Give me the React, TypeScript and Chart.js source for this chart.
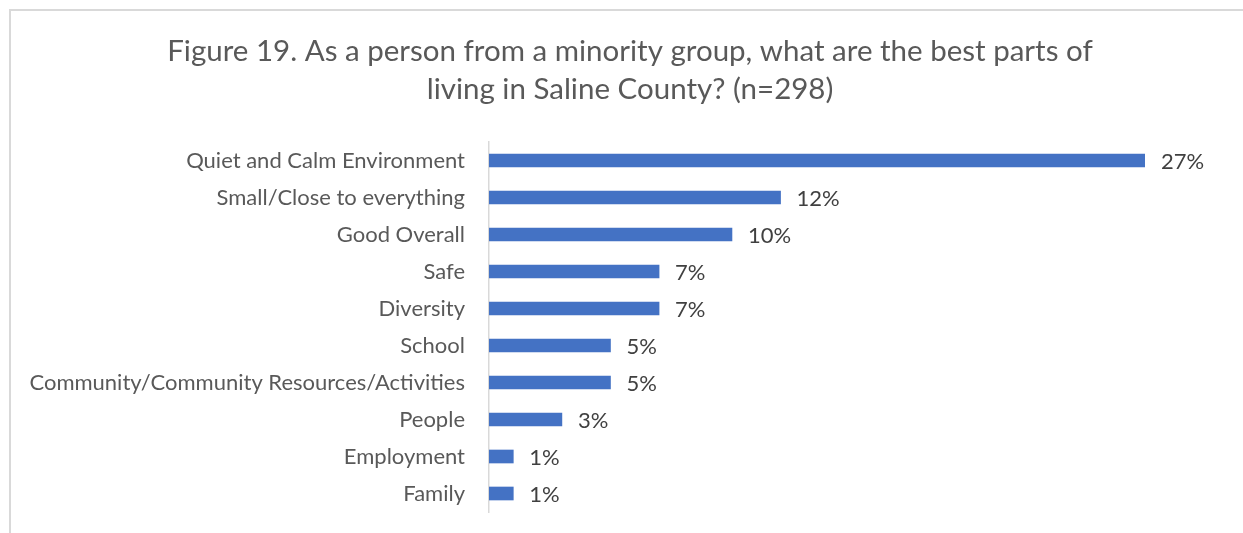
import React, { useEffect, useRef } from "react";
import { Chart, registerables } from "chart.js";

Chart.register(...registerables);

const titleLines = [
  "Figure 19. As a person from a minority group, what are the best parts of",
  "living in Saline County? (n=298)",
];

const categories = [
  "Quiet and Calm Environment",
  "Small/Close to everything",
  "Good Overall",
  "Safe",
  "Diversity",
  "School",
  "Community/Community Resources/Activities",
  "People",
  "Employment",
  "Family",
];

const values = [27, 12, 10, 7, 7, 5, 5, 3, 1, 1];
const valueLabels = ["27%", "12%", "10%", "7%", "7%", "5%", "5%", "3%", "1%", "1%"];

const FONT = "Lato, 'Open Sans', sans-serif";

const framePlugin = {
  id: "frame",
  beforeDraw(chart: any) {
    const ctx = chart.ctx;
    ctx.save();
    ctx.fillStyle = "#ffffff";
    ctx.fillRect(0, 0, chart.width, chart.height);
    ctx.strokeStyle = "#d9d9d9";
    ctx.lineWidth = 2;
    ctx.strokeRect(10, 10, chart.width + 50, chart.height + 50);
    ctx.restore();
  },
};

const titlePlugin = {
  id: "twoLineTitle",
  afterDraw(chart: any) {
    const ctx = chart.ctx;
    ctx.save();
    ctx.fillStyle = "#595959";
    ctx.font = `29.5px ${FONT}`;
    ctx.textAlign = "center";
    ctx.textBaseline = "alphabetic";
    ctx.fillText(titleLines[0], 630, 61);
    ctx.fillText(titleLines[1], 630, 99);
    ctx.restore();
  },
};

const valueLabelPlugin = {
  id: "valueLabels",
  afterDatasetsDraw(chart: any) {
    const ctx = chart.ctx;
    const meta = chart.getDatasetMeta(0);
    ctx.save();
    ctx.fillStyle = "#404040";
    ctx.font = `22px ${FONT}`;
    ctx.textAlign = "left";
    ctx.textBaseline = "middle";
    meta.data.forEach((bar: any, i: number) => {
      ctx.fillText(valueLabels[i], bar.x + 16, bar.y + 1);
    });
    ctx.restore();
  },
};

export default function App() {
  const ref = useRef<HTMLCanvasElement>(null);

  useEffect(() => {
    document.body.style.margin = "0";
    const canvas = ref.current!;
    const chart = new Chart(canvas, {
      type: "bar",
      data: {
        labels: categories,
        datasets: [
          {
            data: values,
            backgroundColor: "#4472C4",
            barThickness: 13,
          },
        ],
      },
      options: {
        indexAxis: "y",
        responsive: false,
        animation: false,
        layout: { padding: { top: 142, bottom: 21, right: 98, left: 0 } },
        plugins: {
          legend: { display: false },
          title: { display: false },
          tooltip: { enabled: false },
        },
        scales: {
          x: {
            display: false,
            min: 0,
            max: 27,
          },
          y: {
            afterFit(axis: any) {
              axis.width = 489;
              axis.paddingTop = 0;
              axis.paddingBottom = 0;
            },
            grid: { display: false, drawTicks: false },
            border: { display: true, color: "#d9d9d9", width: 1.5 },
            ticks: {
              padding: 24,
              color: "#595959",
              font: { family: FONT, size: 22 },
            },
          },
        },
      },
      plugins: [framePlugin, titlePlugin, valueLabelPlugin],
    });
    return () => chart.destroy();
  }, []);

  return (
    <div>
      <canvas ref={ref} width={1243} height={533} style={{ display: "block" }} />
    </div>
  );
}
